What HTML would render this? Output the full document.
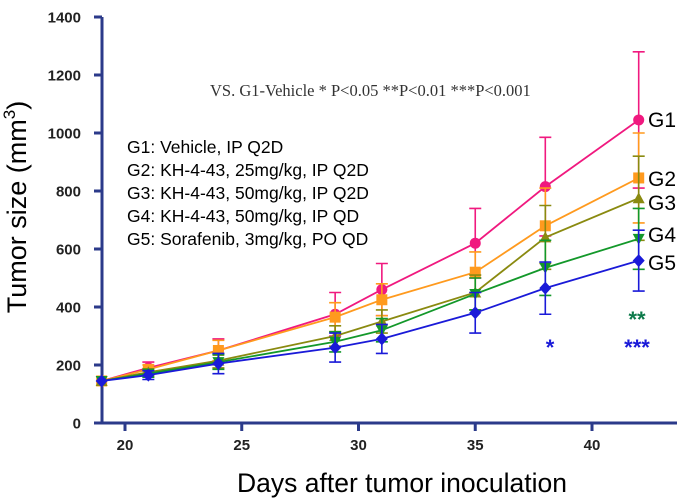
<!DOCTYPE html>
<html><head><meta charset="utf-8"><style>
body{margin:0;background:#fff;}
svg{display:block;font-family:"Liberation Sans",sans-serif;}
</style></head><body>
<svg id="chart" width="677" height="498" viewBox="0 0 677 498" xmlns="http://www.w3.org/2000/svg">
<g id="axes"></g>
<g id="series"></g>
<text transform="translate(26,207) rotate(-90)" text-anchor="middle" font-size="27" fill="#000">Tumor size (mm<tspan font-size="17" dy="-11">3</tspan><tspan dy="11">)</tspan></text>
<text x="402" y="492" text-anchor="middle" font-size="26.5" fill="#000">Days after tumor inoculation</text>
<text x="210" y="96" font-family="Liberation Serif,serif" font-size="16.5" fill="#333">VS. G1-Vehicle  * P&lt;0.05 **P&lt;0.01 ***P&lt;0.001</text>
<g font-size="17.5" fill="#000">
<text x="127" y="153">G1: Vehicle, IP Q2D</text>
<text x="127" y="176">G2: KH-4-43, 25mg/kg, IP Q2D</text>
<text x="127" y="199">G3: KH-4-43, 50mg/kg, IP Q2D</text>
<text x="127" y="222">G4: KH-4-43, 50mg/kg, IP QD</text>
<text x="127" y="245">G5: Sorafenib, 3mg/kg, PO QD</text>
</g>
<g font-size="21" fill="#000">
<text x="648" y="127">G1</text>
<text x="648" y="186">G2</text>
<text x="648" y="210">G3</text>
<text x="648" y="242">G4</text>
<text x="648" y="270">G5</text>
</g>
<text x="550" y="355" text-anchor="middle" font-size="22" font-weight="bold" fill="#1a1ad8">*</text>
<text x="637" y="327" text-anchor="middle" font-size="22" font-weight="bold" fill="#0d7a4a">**</text>
<text x="637" y="355" text-anchor="middle" font-size="22" font-weight="bold" fill="#1a1ad8">***</text>
</svg>
<script>
const days = [19, 21, 24, 29, 31, 35, 38, 42];
const g1 = [145, 190, 250, 375, 460, 620, 815, 1045];
const g1Err = [0, 20, 40, 75, 90, 120, 170, 235];
const g2 = [145, 185, 250, 365, 425, 520, 680, 845];
const g2Err = [0, 15, 35, 50, 55, 70, 130, 155];
const g3 = [145, 175, 215, 300, 350, 450, 640, 775];
const g3Err = [0, 12, 25, 35, 40, 60, 110, 145];
const g4 = [145, 170, 210, 280, 320, 445, 535, 635];
const g4Err = [0, 12, 25, 35, 40, 55, 95, 105];
const g5 = [145, 165, 205, 260, 290, 380, 465, 560];
const g5Err = [0, 15, 35, 50, 50, 70, 90, 105];
const yTicks = [0, 200, 400, 600, 800, 1000, 1200, 1400];
const xTicks = [20, 25, 30, 35, 40];

const NS = "http://www.w3.org/2000/svg";
const xs = d => 125 + (d - 20) * 23.35;
const ys = v => 423 - v * 0.29;
function mk(tag, attrs, parent){const e=document.createElementNS(NS,tag);for(const k in attrs)e.setAttribute(k,attrs[k]);parent.appendChild(e);return e;}
const axes=document.getElementById('axes');
const AX="#2b3a8a";
let l=mk('line',{x1:102,y1:ys(1400),x2:102,y2:423,stroke:AX,'stroke-width':3},axes);


l=mk('line',{x1:94,y1:423,x2:677,y2:423,stroke:AX,'stroke-width':3},axes);


yTicks.forEach(v=>{
  const t=mk('line',{x1:94,y1:ys(v),x2:102,y2:ys(v),stroke:AX,'stroke-width':3},axes);
  
  
  const tx=mk('text',{x:81,y:ys(v)+5.5,'text-anchor':'end','font-size':15,'font-weight':'bold',fill:'#222'},axes);
  tx.textContent=v;
  
  
});
xTicks.forEach(d=>{
  const t=mk('line',{x1:xs(d),y1:423,x2:xs(d),y2:431,stroke:AX,'stroke-width':3},axes);
  
  
  const tx=mk('text',{x:xs(d),y:450,'text-anchor':'middle','font-size':15,'font-weight':'bold',fill:'#222'},axes);
  tx.textContent=d;
  
  
});
const seriesList=[
  {name:'g1',vals:g1,err:g1Err,color:'#f0197f',shape:'circle'},
  {name:'g2',vals:g2,err:g2Err,color:'#ff9a1e',shape:'square'},
  {name:'g3',vals:g3,err:g3Err,color:'#8a8a10',shape:'up'},
  {name:'g4',vals:g4,err:g4Err,color:'#13982a',shape:'down'},
  {name:'g5',vals:g5,err:g5Err,color:'#1a1ad8',shape:'diamond'}
];
const sg=document.getElementById('series');
seriesList.forEach(s=>{
  const g=mk('g',{},sg);
  
  
  s.vals.forEach((v,i)=>{
    const x=xs(days[i]),e=s.err[i];
    if(e>0){
      const eb=mk('path',{d:`M${x},${ys(v-e)}V${ys(v+e)}M${x-6},${ys(v+e)}h12M${x-6},${ys(v-e)}h12`,stroke:s.color,'stroke-width':1.6,fill:'none'},g);
      
      
    }
  });
  const line=mk('polyline',{points:s.vals.map((v,i)=>xs(days[i])+','+ys(v)).join(' '),fill:'none',stroke:s.color,'stroke-width':1.8},g);
  
  
  s.vals.forEach((v,i)=>{
    const x=xs(days[i]),y=ys(v);let m;
    if(s.shape==='circle')m=mk('circle',{cx:x,cy:y,r:5.5,fill:s.color},g);
    else if(s.shape==='square')m=mk('rect',{x:x-5.5,y:y-5.5,width:11,height:11,fill:s.color},g);
    else if(s.shape==='up')m=mk('polygon',{points:`${x},${y-6} ${x-6},${y+5} ${x+6},${y+5}`,fill:s.color},g);
    else if(s.shape==='down')m=mk('polygon',{points:`${x},${y+6} ${x-6},${y-5} ${x+6},${y-5}`,fill:s.color},g);
    else m=mk('polygon',{points:`${x},${y-6.5} ${x+6},${y} ${x},${y+6.5} ${x-6},${y}`,fill:s.color},g);
    
    
  });
});
</script>
</body></html>
